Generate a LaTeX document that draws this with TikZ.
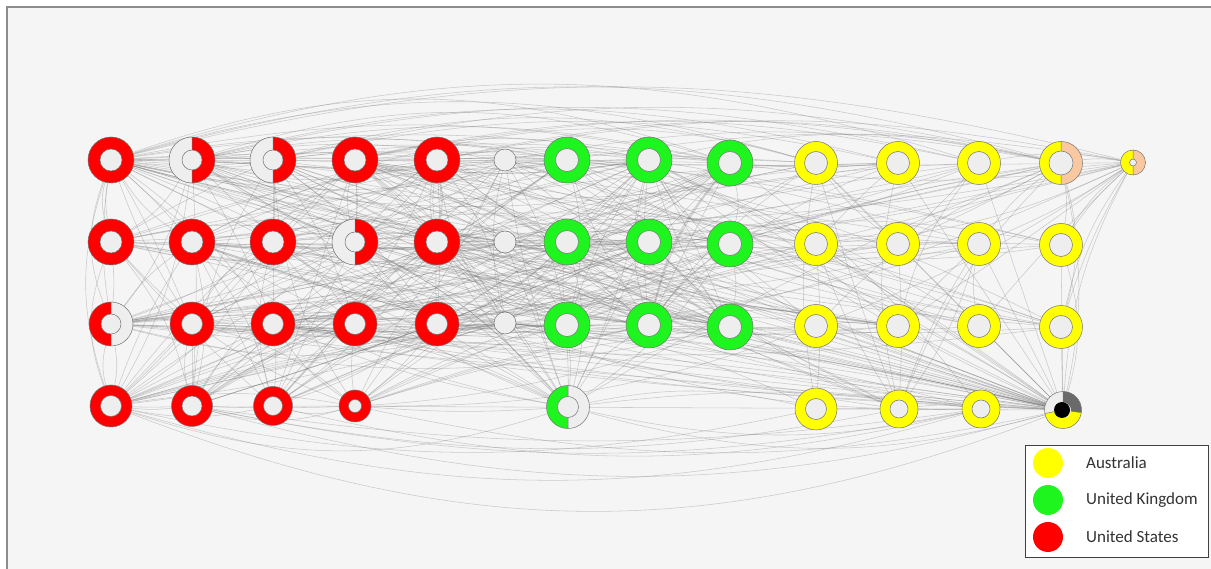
\documentclass[tikz,border=0pt]{standalone}
\usepackage{fontspec}
\newfontfamily\legfont{Carlito}
\pgfdeclarelayer{bg}
\pgfsetlayers{bg,main}
\definecolor{bgc}{HTML}{F5F5F5}
\definecolor{holec}{HTML}{EEEEEE}
\definecolor{rd}{HTML}{FF0000}
\definecolor{gr}{HTML}{1EF51E}
\definecolor{yl}{HTML}{FFFF00}
\definecolor{pch}{HTML}{F9C8A0}
\definecolor{dg}{HTML}{6A6A6A}
\definecolor{framec}{HTML}{8C8C8C}
\definecolor{legtext}{HTML}{333333}
\tikzset{
  edge/.style={draw=black!55, line width=0.55pt, opacity=0.33},
  ol/.style={draw=black!55, line width=0.5pt},
  legcirc/.style={circle, inner sep=0pt, minimum size=30pt},
  legtxt/.style={anchor=west, inner sep=2pt, text=legtext, font=\legfont\fontsize{17}{20}\selectfont}
}
\newcommand\mknode[4]{\node[circle,inner sep=0pt,outer sep=0pt,minimum size=#4*2pt] (#1) at (#2,#3) {};}
\newcommand\donut[6]{%
  \mknode{#1}{#2}{#3}{#4}
  \fill[#6] (#2,#3) circle[radius=#4pt];
  \fill[holec] (#2,#3) circle[radius=#5pt];
  \draw[ol] (#2,#3) circle[radius=#4pt] (#2,#3) circle[radius=#5pt];}
\newcommand\sect[7]{%
  \fill[#7] (#1,#2) ++(#5:#3pt) arc[start angle=#5,end angle=#6,radius=#3pt] -- ++(#6:#4pt-#3pt) arc[start angle=#6,end angle=#5,radius=#4pt] -- cycle;}
\newcommand\halves[7]{%
  \mknode{#1}{#2}{#3}{#4}
  \sect{#2}{#3}{#4}{#5}{90}{270}{#6}
  \sect{#2}{#3}{#4}{#5}{-90}{90}{#7}
  \fill[holec] (#2,#3) circle[radius=#5pt];
  \draw[ol] (#2,#3) circle[radius=#4pt] (#2,#3) circle[radius=#5pt]
    (#2,#3) ++(0,#5) -- ++(0,#4-#5) (#2,#3) ++(0,-#5) -- ++(0,#5-#4);}
\newcommand\plainnode[4]{%
  \mknode{#1}{#2}{#3}{#4}
  \fill[holec] (#2,#3) circle[radius=#4pt];
  \draw[ol] (#2,#3) circle[radius=#4pt];}
\begin{document}
\begin{tikzpicture}[x=1pt,y=1pt]
\useasboundingbox (0,0) rectangle (1211,568);
% ---- row 1
\donut{a1}{111}{408}{23}{11}{rd}
\halves{a2}{192}{408}{23}{10}{holec}{rd}
\halves{a3}{273}{408}{23}{10}{holec}{rd}
\donut{a4}{355}{408}{23}{11}{rd}
\donut{a5}{437}{408}{23}{11}{rd}
\plainnode{a6}{505}{408}{11}
\donut{a7}{567}{408}{23}{11.5}{gr}
\donut{a8}{649}{408}{23}{11.5}{gr}
\donut{a9}{730}{405}{23}{11.5}{gr}
% ---- row 2
\donut{a10}{111}{326}{23}{11}{rd}
\donut{a11}{192}{326}{23}{11}{rd}
\donut{a12}{273}{326}{23}{11}{rd}
\halves{a13}{355}{326}{23}{10}{holec}{rd}
\donut{a14}{437}{326}{23}{11}{rd}
\plainnode{a15}{505}{326}{11}
\donut{a16}{567}{326}{23}{11.5}{gr}
\donut{a17}{649}{326}{23}{11.5}{gr}
\donut{a18}{730}{324}{23}{11.5}{gr}
% ---- row 3
\halves{a19}{111}{244}{22}{10}{rd}{holec}
\donut{a20}{192}{244}{22}{10.5}{rd}
\donut{a21}{273}{244}{22}{10.5}{rd}
\donut{a22}{355}{244}{22}{10.5}{rd}
\donut{a23}{437}{244}{22}{10.5}{rd}
\plainnode{a24}{505}{245}{11}
\donut{a25}{567}{243}{23}{11.5}{gr}
\donut{a26}{649}{243}{23}{11.5}{gr}
\donut{a27}{730}{241}{23}{11.5}{gr}
% ---- row 4
\donut{a28}{111}{162}{21}{10.5}{rd}
\donut{a29}{192}{162}{20.5}{10}{rd}
\donut{a30}{273}{162}{19.5}{9.5}{rd}
\donut{a31}{355}{162}{16}{6.5}{rd}
\halves{a32}{568}{161}{21.5}{10.5}{gr}{holec}
% ---- yellow group
\donut{b1}{816}{405}{21.5}{11.5}{yl}
\donut{b2}{898}{405}{21.5}{11.5}{yl}
\donut{b3}{979}{405}{21.5}{11.5}{yl}
\halves{b4}{1061}{405}{21.5}{12}{yl}{pch}
\halves{b5}{1133}{405.5}{12.5}{3.5}{yl}{pch}
\donut{b6}{816}{324}{21.5}{11.5}{yl}
\donut{b7}{898}{324}{21.5}{11.5}{yl}
\donut{b8}{979}{324}{21.5}{11.5}{yl}
\donut{b9}{1061}{323}{21.5}{11.5}{yl}
\donut{b10}{816}{242}{21.5}{11.5}{yl}
\donut{b11}{898}{242}{21.5}{11.5}{yl}
\donut{b12}{979}{242}{21.5}{11.5}{yl}
\donut{b13}{1061}{241}{21.5}{11.5}{yl}
\donut{b14}{816}{159}{21}{10.5}{yl}
\donut{b15}{899}{159}{19}{9}{yl}
\donut{b16}{981}{159}{19}{9}{yl}
% black-centred node
\mknode{b17}{1063}{158}{18.5}
\sect{1063}{158}{18.5}{8}{90}{191}{holec}
\sect{1063}{158}{18.5}{8}{191}{352}{yl}
\sect{1063}{158}{18.5}{8}{-8}{90}{dg}
\fill[black] (1062,158) circle[radius=8pt];
\draw[ol] (1063,158) circle[radius=18.5pt]
  (1063,158) ++(90:8pt) -- ++(90:10.5pt)
  (1063,158) ++(191:8pt) -- ++(191:10.5pt)
  (1063,158) ++(-8:8pt) -- ++(-8:10.5pt);
% ---- legend
\node[draw=black!75, line width=1pt, fill=white, minimum width=183pt, minimum height=112pt, anchor=north west, inner sep=0pt] (legend) at (1025,123) {};
\node[legcirc, fill=yl] (l1) at (1048,105) {};
\node[legcirc, fill=gr] (l2) at (1048,68) {};
\node[legcirc, fill=rd] (l3) at (1048,31) {};
\node[legtxt] (t1) at (1084,105) {Australia};
\node[legtxt] (t2) at (1084,68) {United Kingdom};
\node[legtxt] (t3) at (1084,31) {United States};
% ---- background and edges
\begin{pgfonlayer}{bg}
\fill[white] (0,0) rectangle (1211,568);
\fill[bgc] (7,-20) rectangle (1230,561);
\draw[framec, line width=2pt] (7,-20) rectangle (1230,561);
\pgfmathsetseed{2024}
\foreach \i in {1,...,340}{%
  \pgfmathrandominteger{\p}{1}{32}%
  \pgfmathrandominteger{\q}{1}{32}%
  \pgfmathrandominteger{\c}{-15}{15}%
  \ifnum\p=\q\relax\else\draw[edge] (a\p) to[bend left=\c] (a\q);\fi}
\foreach \i in {1,...,100}{%
  \pgfmathrandominteger{\p}{1}{32}%
  \pgfmathrandominteger{\q}{1}{16}%
  \pgfmathrandominteger{\c}{-12}{12}%
  \draw[edge] (a\p) to[bend left=\c] (b\q);}
\foreach \i in {1,...,35}{%
  \pgfmathrandominteger{\p}{1}{27}%
  \pgfmathrandominteger{\c}{-6}{6}%
  \draw[edge] (a\p) to[bend left=\c] (b17);}
\foreach \i in {1,...,30}{%
  \pgfmathrandominteger{\p}{1}{16}%
  \pgfmathrandominteger{\q}{1}{16}%
  \pgfmathrandominteger{\c}{-12}{12}%
  \ifnum\p=\q\relax\else\draw[edge] (b\p) to[bend left=\c] (b\q);\fi}
\foreach \s in {b1,b2,b3,b6,b7,b8,b9,b10,b11,b12,b13,b14}
  \draw[edge] (\s) -- (b17);
\foreach \t/\c in {b4/-8,b6/10,b9/-10,b10/6,b13/-6,b17/-12,a9/8,b3/-10,b8/5}
  \draw[edge] (b5) to[bend left=\c] (\t);
% top arcs
\foreach \s/\t/\o in {a1/b4/15,a1/b1/16,a2/b3/13,a3/b4/13,a1/a9/19,a2/b2/14,a4/b4/11,a5/b5/11,a1/b5/14,a3/b1/15,a6/b4/10,a2/a9/17,a7/b5/9,a4/b3/12,a8/b4/12,a1/b3/17,a3/b2/12,a5/b4/12,a10/b1/16,a2/b13/10}
  \draw[edge] (\s) to[out=\o,in=180-\o] (\t);
% bottom arcs
\foreach \s/\t/\o in {a28/b17/21,a28/b16/16,a29/b17/15,a32/b17/15,a31/b17/12,a30/b16/13,a28/b14/12,a32/b16/12,a29/b15/11,a28/a32/18}
  \draw[edge] (\s) to[out=-\o,in=180+\o] (\t);
% left side arcs
\foreach \s/\t/\c in {a1/a28/18,a1/a19/20,a10/a28/20,a1/a10/15,a19/a28/14}
  \draw[edge] (\s) to[bend right=\c] (\t);
\foreach \s/\t/\c in {b4/b13/15,b4/b17/12,b9/b17/16}
  \draw[edge] (\s) to[bend left=\c] (\t);
\end{pgfonlayer}
\end{tikzpicture}
\end{document}
